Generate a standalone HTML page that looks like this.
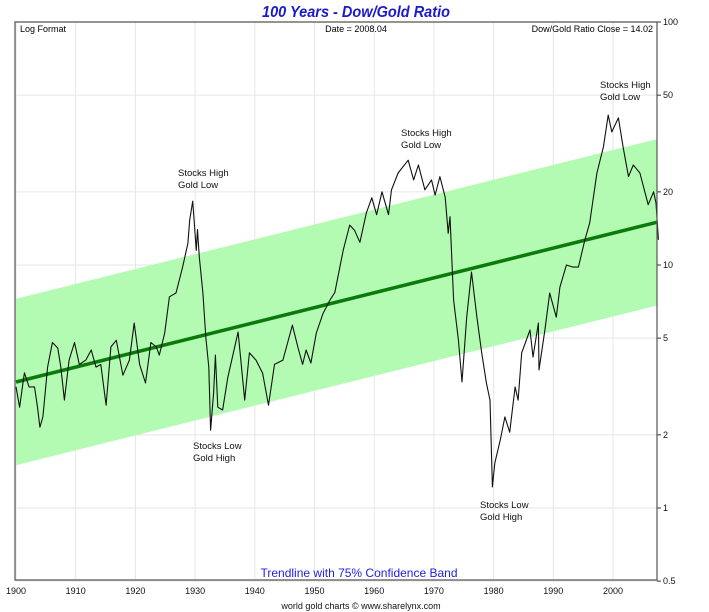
<!DOCTYPE html>
<html><head><meta charset="utf-8"><style>
html,body{margin:0;padding:0;background:#fff;}
svg{display:block;font-family:"Liberation Sans",Arial,sans-serif;}
</style></head><body>
<svg id="chart" width="709" height="612" viewBox="0 0 709 612">
<text x="356" y="17" text-anchor="middle" font-size="16" font-weight="bold" font-style="italic" fill="#1a1acc" textLength="188" lengthAdjust="spacingAndGlyphs">100 Years - Dow/Gold Ratio</text>
<g id="grid"></g>
<g id="band"></g>
<g id="series"></g>
<g id="axes"></g>
<text x="20" y="32" font-size="9" fill="#000">Log Format</text>
<text x="356" y="32" font-size="9" text-anchor="middle" fill="#000">Date = 2008.04</text>
<text x="653" y="32" font-size="9" text-anchor="end" fill="#000">Dow/Gold Ratio Close = 14.02</text>
<g font-size="9.5" fill="#111">
<text x="178" y="176">Stocks High</text>
<text x="178" y="188">Gold Low</text>
<text x="193" y="449">Stocks Low</text>
<text x="193" y="461">Gold High</text>
<text x="401" y="136">Stocks High</text>
<text x="401" y="148">Gold Low</text>
<text x="480" y="508">Stocks Low</text>
<text x="480" y="520">Gold High</text>
<text x="600" y="88">Stocks High</text>
<text x="600" y="100">Gold Low</text>
</g>
<text x="359" y="577" font-size="12" text-anchor="middle" fill="#2222dd">Trendline with 75% Confidence Band</text>
<text x="361" y="609" font-size="9" text-anchor="middle" fill="#111">world gold charts © www.sharelynx.com</text>
</svg>
<script>
const years = [1900,1900.6,1901.4,1902.2,1903.1,1903.6,1904.0,1904.5,1905.3,1906.1,1907.0,1907.5,1908.1,1908.9,1909.8,1910.6,1911.7,1912.6,1913.4,1914.2,1915.1,1915.9,1916.8,1917.9,1919.0,1919.8,1920.7,1921.7,1922.6,1923.5,1924.0,1924.9,1925.7,1926.8,1927.9,1928.8,1929.1,1929.6,1930.2,1930.4,1930.7,1931.3,1931.8,1932.3,1932.6,1933.1,1933.4,1933.8,1934.6,1935.5,1937.2,1938.3,1939.1,1940.2,1941.3,1942.3,1943.3,1944.7,1946.3,1947.2,1948.0,1948.6,1949.4,1950.3,1951.4,1952.6,1953.4,1954.8,1955.9,1956.7,1957.6,1958.7,1959.6,1960.4,1961.3,1962.4,1962.9,1964.0,1965.7,1966.6,1967.4,1968.5,1969.6,1970.2,1971.0,1971.9,1972.4,1972.7,1973.3,1974.1,1974.7,1975.5,1976.3,1977.2,1978.0,1978.8,1979.4,1979.8,1980.2,1981.1,1981.9,1982.7,1983.6,1984.1,1984.7,1986.1,1986.6,1987.5,1987.6,1988.6,1989.4,1990.5,1991.1,1992.2,1993.3,1994.2,1995.3,1996.1,1997.3,1998.4,1999.2,1999.8,2000.9,2001.7,2002.6,2003.4,2004.5,2005.9,2006.8,2007.2,2007.6];
const ratios = [3.15,2.6,3.6,3.15,3.15,2.6,2.15,2.37,3.8,4.8,4.55,3.8,2.78,4.06,4.8,3.9,4.06,4.47,3.8,3.9,2.65,4.6,4.9,3.52,4.06,5.77,3.9,3.27,4.8,4.6,4.26,5.25,7.4,7.67,9.8,12.3,15.3,18.3,11.5,14,10.8,7.67,5.05,3.8,2.09,2.97,4.26,2.6,2.53,3.46,5.3,2.78,4.35,4.06,3.59,2.65,3.9,4.06,5.66,4.6,3.9,4.47,3.95,5.25,6.3,7.18,7.7,11.5,14.6,13.9,12.4,16.4,18.9,16.1,20,16.1,20.4,23.9,27,22.4,25.8,20.4,22.4,19.4,23.1,19,13.5,15.8,7.18,4.92,3.3,6.1,9.35,6.1,4.35,3.27,2.78,1.22,1.53,1.9,2.37,2.05,3.15,2.78,4.35,5.4,4.18,5.77,3.7,5.4,7.67,6.1,8.1,10,9.8,9.8,12.7,14.9,23.9,30.6,41.4,35.3,40.3,30.6,23.1,25.8,23.9,17.7,20,18,12.7];
const trendYears = [1900, 2007.4];
const trendValues = [3.3, 15.0];
const bandFactor = 2.2;
const xTicks = [1900,1910,1920,1930,1940,1950,1960,1970,1980,1990,2000];
const yTicks = [100,50,20,10,5,2,1,0.5];

const L=15,R=657,T=22,B=580;
const X = yr => 16 + (yr-1900)*5.97;
const Y = v => 508 - 243*Math.log10(v);
const NS="http://www.w3.org/2000/svg";
function mk(tag, parent, attrs){const e=document.createElementNS(NS,tag);for(const k in attrs)e.setAttribute(k,attrs[k]);parent.appendChild(e);return e;}
const grid=document.getElementById('grid'), band=document.getElementById('band'), series=document.getElementById('series'), axes=document.getElementById('axes');

xTicks.forEach(t=>{
  const g=mk('line',grid,{x1:X(t),x2:X(t),y1:T,y2:B,stroke:'#e6e6e6','stroke-width':1});
  
  
  const l=mk('text',axes,{x:X(t),y:594,'font-size':9,'text-anchor':'middle',fill:'#111'});
  l.textContent=t;
  
  
});
yTicks.forEach(t=>{
  const g=mk('line',grid,{x1:L,x2:R,y1:Y(t),y2:Y(t),stroke:'#e6e6e6','stroke-width':1});
  
  
  const tk=mk('line',axes,{x1:R,x2:R+4,y1:Y(t),y2:Y(t),stroke:'#333'});
  
  
  const l=mk('text',axes,{x:R+6,y:Y(t)+3,'font-size':9,fill:'#111'});
  l.textContent=t;
  
  
});

const ty0=trendYears[0], ty1=trendYears[1];
const bp=mk('polygon',band,{points:[[X(ty0),Y(trendValues[0]*bandFactor)],[X(ty1),Y(trendValues[1]*bandFactor)],[X(ty1),Y(trendValues[1]/bandFactor)],[X(ty0),Y(trendValues[0]/bandFactor)]].map(p=>p.join(',')).join(' '),fill:'#b3fbb3'});


const tl=mk('line',band,{x1:X(ty0),y1:Y(trendValues[0]),x2:X(ty1),y2:Y(trendValues[1]),stroke:'#0a7a0a','stroke-width':3.5});



const pts=years.map((y,i)=>X(y).toFixed(1)+','+Y(ratios[i]).toFixed(1)).join(' ');
const pl=mk('polyline',series,{points:pts,fill:'none',stroke:'#111','stroke-width':1.1,'stroke-linejoin':'round'});



const fr=mk('path',axes,{d:`M${L},${T}H${R}V${B}H${L}Z`,fill:'none',stroke:'#555','stroke-width':1.2});


</script>
</body></html>
